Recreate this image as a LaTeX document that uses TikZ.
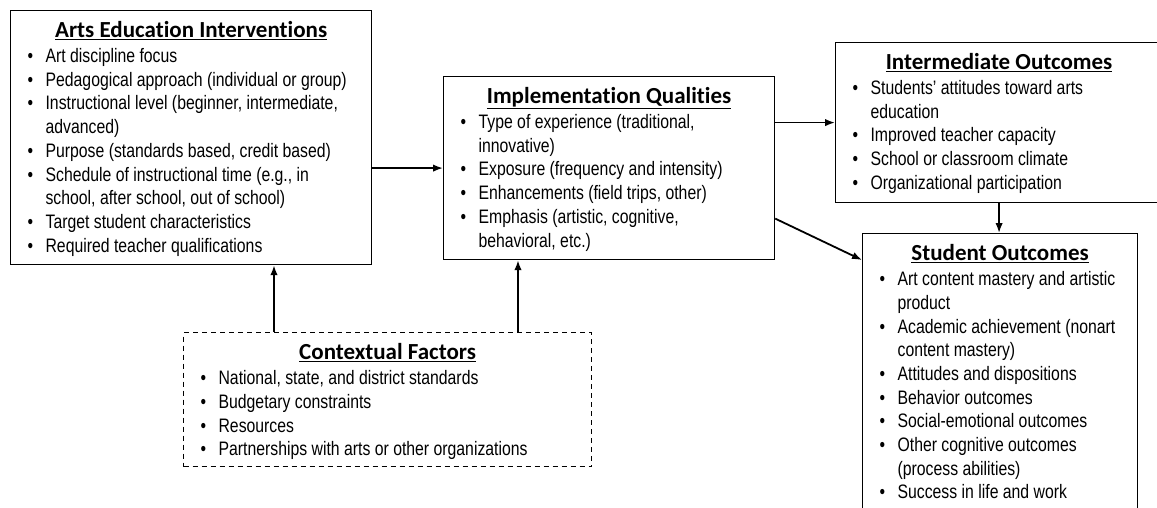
\documentclass[tikz,border=0pt]{standalone}
\usepackage{fontspec}
\setmainfont{Liberation Sans}[FakeStretch=0.81]
\newfontfamily\headfont{Carlito}[Ligatures=NoCommon]
\usetikzlibrary{arrows.meta}
\tikzset{>={Latex[length=10pt,width=7.5pt]}}
\tikzset{
  block/.style = {draw, line width=1.2pt, inner sep=0pt, anchor=north west},
  context/.style = {block, dash pattern=on 5pt off 4pt},
  link/.style = {->, line width=1.8pt}
}
% box body: width, height, title, items
\newcommand{\blockbody}[4]{%
  \begin{minipage}[t][#2][t]{#1}
    \raggedright\fontsize{19.5}{23.7}\selectfont
    \rule{0pt}{27pt}\hfill{\headfont\bfseries\fontsize{23}{23}\selectfont\underline{#3}}\hfill\null
    \par\vspace{1.3pt}
    #4
  \end{minipage}}
\newcommand{\bul}[1]{\par\hangindent=35pt\hangafter=1\noindent\hspace*{17pt}\makebox[18pt][l]{\textbullet}#1}

\begin{document}
\begin{tikzpicture}[x=1pt,y=-1pt]
  \useasboundingbox (0,0) rectangle (1157,508);

  \node[block] (arts) at (10,10) {\blockbody{361pt}{254pt}{Arts Education Interventions}{%
    \bul{Art discipline focus}
    \bul{Pedagogical approach (individual or group)}
    \bul{Instructional level (beginner, intermediate,\newline advanced)}
    \bul{Purpose (standards based, credit based)}
    \bul{Schedule of instructional time (e.g., in\newline school, after school, out of school)}
    \bul{Target student characteristics}
    \bul{Required teacher qualifications}}};

  \node[block] (impl) at (443,76) {\blockbody{331pt}{183pt}{Implementation Qualities}{%
    \bul{Type of experience (traditional,\newline innovative)}
    \bul{Exposure (frequency and intensity)}
    \bul{Enhancements (field trips, other)}
    \bul{Emphasis (artistic, cognitive,\newline behavioral, etc.)}}};

  \node[block] (inter) at (835,42) {\blockbody{327pt}{160pt}{Intermediate Outcomes}{%
    \bul{Students’ attitudes toward arts\newline education}
    \bul{Improved teacher capacity}
    \bul{School or classroom climate}
    \bul{Organizational participation}}};

  \node[block] (student) at (862,233) {\blockbody{275pt}{290pt}{Student Outcomes}{%
    \bul{Art content mastery and artistic\newline product}
    \bul{Academic achievement (nonart\newline content mastery)}
    \bul{Attitudes and dispositions}
    \bul{Behavior outcomes}
    \bul{Social-emotional outcomes}
    \bul{Other cognitive outcomes\newline (process abilities)}
    \bul{Success in life and work}}};

  \node[context] (factors) at (183,332) {\blockbody{408pt}{134pt}{Contextual Factors}{%
    \bul{National, state, and district standards}
    \bul{Budgetary constraints}
    \bul{Resources}
    \bul{Partnerships with arts or other organizations}}};

  % connectors
  \draw[link] (arts.east |- impl.west) -- (impl.west);
  \draw[link] (impl.east |- inter.west) -- (inter.west);
  \draw[link] ([yshift=-50.5pt]impl.east) -- ([yshift=-27pt]student.north west);
  \draw[link] (inter.south) -- (inter.south |- student.north);
  \draw[link] ([xshift=91pt]factors.north west) -- ([xshift=91pt]factors.north west |- arts.south);
  \draw[link] ([xshift=335pt]factors.north west) -- ([xshift=335pt]factors.north west |- impl.south);
\end{tikzpicture}
\end{document}
